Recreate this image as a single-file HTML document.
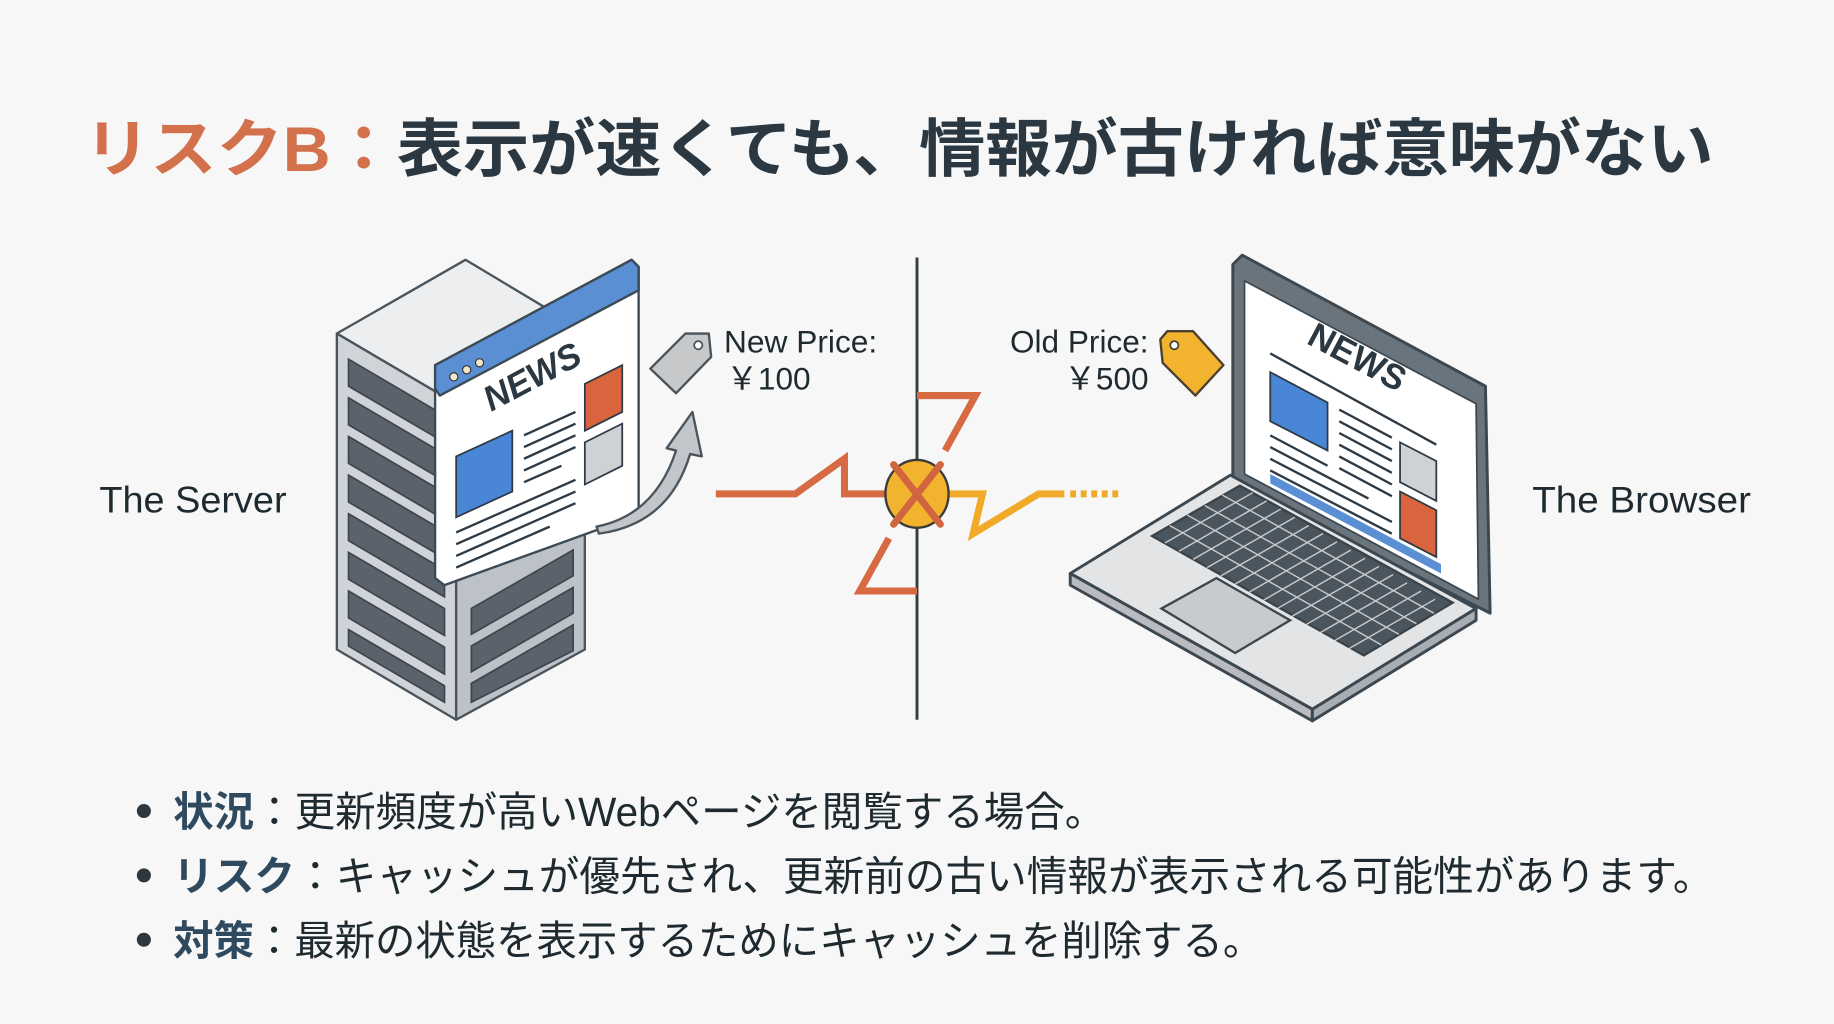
<!DOCTYPE html>
<html><head><meta charset="utf-8"><style>
html,body{margin:0;padding:0;background:#f6f7f6;}
svg{display:block}
text{font-family:"Liberation Sans","Noto Sans CJK JP",sans-serif;}
</style></head><body>
<svg width="1834" height="1024" viewBox="0 0 1568 875" preserveAspectRatio="none" xmlns="http://www.w3.org/2000/svg">
<rect width="1568" height="875" fill="#f6f7f6"/>
<!-- Title -->
<text x="72" y="146" font-size="54" font-weight="bold" textLength="1393" lengthAdjust="spacingAndGlyphs"><tspan fill="#d3714c">リスクB：</tspan><tspan fill="#2b3741">表示が速くても、情報が古ければ意味がない</tspan></text>

<!-- labels -->
<text x="85" y="438" font-size="32" fill="#1f2a30" textLength="160" lengthAdjust="spacingAndGlyphs">The Server</text>
<text x="1310" y="438" font-size="32" fill="#1f2a30" textLength="187" lengthAdjust="spacingAndGlyphs">The Browser</text>
<text x="619" y="301" font-size="27" fill="#1f2a30" textLength="131" lengthAdjust="spacingAndGlyphs">New Price:</text>
<text x="621" y="333" font-size="27" fill="#1f2a30">￥100</text>
<text x="982" y="301" font-size="27" fill="#1f2a30" text-anchor="end">Old Price:</text>
<text x="982" y="333" font-size="27" fill="#1f2a30" text-anchor="end">￥500</text>

<!-- divider -->
<line x1="784" y1="220" x2="784" y2="615" stroke="#333d44" stroke-width="2.5"/>

<!-- Server tower -->
<g stroke="#4a545c" stroke-width="2" stroke-linejoin="round">
<polygon points="288,285 398,222 500,283 390,345" fill="#eceef0"/>
<polygon points="288,285 390,345 390,615 288,555" fill="#d0d4d8"/>
<polygon points="390,345 500,283 500,555 390,615" fill="#bcc2c8"/>
</g>
<g fill="#5a636b" stroke="#3e474e" stroke-width="1.5">
<polygon points="298,307 380,355 380,378 298,330"/>
<polygon points="298,340 380,388 380,411 298,363"/>
<polygon points="298,373 380,421 380,444 298,396"/>
<polygon points="298,406 380,454 380,477 298,429"/>
<polygon points="298,439 380,487 380,510 298,462"/>
<polygon points="298,472 380,520 380,543 298,495"/>
<polygon points="298,505 380,553 380,576 298,528"/>
<polygon points="298,538 380,586 380,600 298,552"/>
<polygon points="403,520 490,470 490,492 403,542"/>
<polygon points="403,552 490,502 490,524 403,574"/>
<polygon points="403,584 490,534 490,556 403,600"/>
</g>
<!-- News window -->
<g stroke="#3c4a55" stroke-width="2" stroke-linejoin="round">
<polygon points="372,312 540,222 546,228 546,440 380,500 372,494" fill="#ffffff"/>
<polygon points="372,312 540,222 546,228 546,248 376,338 372,332" fill="#5b8fd4"/>
</g>
<circle cx="388" cy="322" r="3.5" fill="#f0e8c8" stroke="#333" stroke-width="1"/>
<circle cx="399" cy="316" r="3.5" fill="#f0e8c8" stroke="#333" stroke-width="1"/>
<circle cx="410" cy="310" r="3.5" fill="#f0e8c8" stroke="#333" stroke-width="1"/>
<text x="420" y="352" font-size="30" font-weight="bold" font-style="italic" fill="#2b3741" transform="rotate(-28 420 352)">NEWS</text>
<polygon points="390,390 438,368 438,420 390,442" fill="#4a86d6" stroke="#2d3a45" stroke-width="1.5"/>
<polygon points="500,328 532,312 532,352 500,368" fill="#d9643e" stroke="#2d3a45" stroke-width="1.5"/>
<polygon points="500,378 532,362 532,398 500,414" fill="#cfd2d5" stroke="#2d3a45" stroke-width="1.5"/>
<g stroke="#2d3a45" stroke-width="2">
<line x1="448" y1="372" x2="492" y2="352"/><line x1="448" y1="382" x2="492" y2="362"/>
<line x1="448" y1="392" x2="492" y2="372"/><line x1="448" y1="402" x2="492" y2="382"/>
<line x1="448" y1="412" x2="480" y2="398"/>
<line x1="390" y1="455" x2="492" y2="410"/><line x1="390" y1="465" x2="492" y2="420"/>
<line x1="390" y1="475" x2="492" y2="430"/><line x1="390" y1="485" x2="470" y2="450"/>
</g>
<!-- curved arrow -->
<path d="M510,450 Q560,440 578,385 L570,383 L592,352 L600,390 L590,388 Q572,448 512,456 Z" fill="#c2c6ca" stroke="#4a545c" stroke-width="2" stroke-linejoin="round"/>
<!-- gray tag -->
<path d="M556,315 L586,285 L606,285 L608,305 L578,336 Z" fill="#c6c8ca" stroke="#4a545c" stroke-width="2" stroke-linejoin="round"/>
<circle cx="597" cy="295" r="3.5" fill="#fff" stroke="#4a545c" stroke-width="1.5"/>

<!-- lightning -->
<g fill="none" stroke="#d86a43" stroke-width="6" stroke-linejoin="miter">
<polyline points="612,422 680,422 722,392 722,422 758,422"/>
<polyline points="784,338 834,338 808,385"/>
<polyline points="760,460 735,505 784,505"/>
</g>
<polyline points="810,422 840,422 832,456 888,422 910,422" fill="none" stroke="#f0aa28" stroke-width="6"/>
<line x1="915" y1="422" x2="956" y2="422" stroke="#f0aa28" stroke-width="6" stroke-dasharray="5,4"/>
<ellipse cx="784" cy="422" rx="27" ry="29" fill="#f2b42e" stroke="#3a3a3a" stroke-width="2"/>
<g stroke="#d0653f" stroke-width="6" stroke-linecap="round">
<line x1="764" y1="397" x2="804" y2="448"/><line x1="804" y1="397" x2="764" y2="448"/>
</g>

<!-- yellow tag -->
<path d="M992,290 L998,283 L1020,283 L1046,312 L1022,338 L994,310 Z" fill="#f2b42e" stroke="#4a4030" stroke-width="2" stroke-linejoin="round"/>
<circle cx="1004" cy="295" r="3.5" fill="#fff" stroke="#4a4030" stroke-width="1.5"/>

<!-- Laptop -->
<g stroke="#3c4750" stroke-width="2.5" stroke-linejoin="round">
<polygon points="1054,226 1062,218 1270,330 1274,524 1054,412" fill="#6a747c"/>
<polygon points="1064,240 1262,345 1264,512 1064,405" fill="#ffffff" stroke-width="1.5"/>
<polygon points="915,490 1052,406 1262,520 1122,606" fill="#e2e4e6"/>
<polygon points="915,490 1122,606 1122,616 915,500" fill="#b8bcc0"/>
<polygon points="1122,606 1262,520 1262,530 1122,616" fill="#a8aeb4"/>
</g>
<polygon points="1086,405 1232,482 1232,490 1086,413" fill="#5b8fd4"/>
<text x="1116" y="293" font-size="30" font-weight="bold" fill="#2b3741" transform="rotate(28 1116 293)">NEWS</text>
<polygon points="1086,318 1135,344 1135,385 1086,360" fill="#4a86d6" stroke="#2d3a45" stroke-width="1.5"/>
<polygon points="1197,378 1228,394 1228,428 1197,412" fill="#cfd2d5" stroke="#2d3a45" stroke-width="1.5"/>
<polygon points="1197,420 1228,436 1228,476 1197,460" fill="#d9643e" stroke="#2d3a45" stroke-width="1.5"/>
<g stroke="#2d3a45" stroke-width="2">
<line x1="1086" y1="302" x2="1228" y2="380"/>
<line x1="1145" y1="350" x2="1190" y2="374"/><line x1="1145" y1="360" x2="1190" y2="384"/>
<line x1="1145" y1="370" x2="1190" y2="394"/><line x1="1145" y1="380" x2="1190" y2="404"/>
<line x1="1145" y1="390" x2="1190" y2="414"/><line x1="1145" y1="400" x2="1190" y2="424"/>
<line x1="1086" y1="372" x2="1135" y2="398"/><line x1="1086" y1="382" x2="1170" y2="426"/>
<line x1="1086" y1="392" x2="1190" y2="446"/><line x1="1086" y1="402" x2="1190" y2="456"/>
</g>
<!-- keyboard -->
<polygon points="985,458 1060,415 1242,515 1166,560" fill="#4b555d" stroke="#3a434a" stroke-width="2"/>
<g stroke="#e8eaec" stroke-width="1.2" opacity="0.8">
<line x1="996" y1="464" x2="1071" y2="421"/><line x1="1008" y1="471" x2="1083" y2="428"/>
<line x1="1020" y1="478" x2="1095" y2="435"/><line x1="1032" y1="485" x2="1107" y2="442"/>
<line x1="1044" y1="492" x2="1119" y2="449"/><line x1="1056" y1="499" x2="1131" y2="456"/>
<line x1="1068" y1="506" x2="1143" y2="463"/><line x1="1080" y1="513" x2="1155" y2="470"/>
<line x1="1092" y1="520" x2="1167" y2="477"/><line x1="1104" y1="527" x2="1179" y2="484"/>
<line x1="1116" y1="534" x2="1191" y2="491"/><line x1="1128" y1="541" x2="1203" y2="498"/>
<line x1="1140" y1="548" x2="1215" y2="505"/><line x1="1152" y1="555" x2="1227" y2="512"/>
<line x1="1000" y1="449" x2="1181" y2="551"/><line x1="1015" y1="440" x2="1196" y2="542"/>
<line x1="1030" y1="432" x2="1211" y2="533"/><line x1="1045" y1="423" x2="1226" y2="524"/>
</g>
<polygon points="993,520 1040,494 1103,530 1056,558" fill="#c8cbce" stroke="#3c4750" stroke-width="2"/>

<!-- bullets -->
<g font-size="35" fill="#1f2a30">
<circle cx="123" cy="693" r="6" fill="#2b3741"/>
<text x="148" y="706" textLength="797" lengthAdjust="spacingAndGlyphs"><tspan fill="#2f4a5e" font-weight="bold">状況</tspan>：更新頻度が高いWebページを閲覧する場合。</text>
<circle cx="123" cy="748" r="6" fill="#2b3741"/>
<text x="148" y="761" textLength="1317" lengthAdjust="spacingAndGlyphs"><tspan fill="#2f4a5e" font-weight="bold">リスク</tspan>：キャッシュが優先され、更新前の古い情報が表示される可能性があります。</text>
<circle cx="123" cy="803" r="6" fill="#2b3741"/>
<text x="148" y="816" textLength="932" lengthAdjust="spacingAndGlyphs"><tspan fill="#2f4a5e" font-weight="bold">対策</tspan>：最新の状態を表示するためにキャッシュを削除する。</text>
</g>
</svg>
</body></html>
